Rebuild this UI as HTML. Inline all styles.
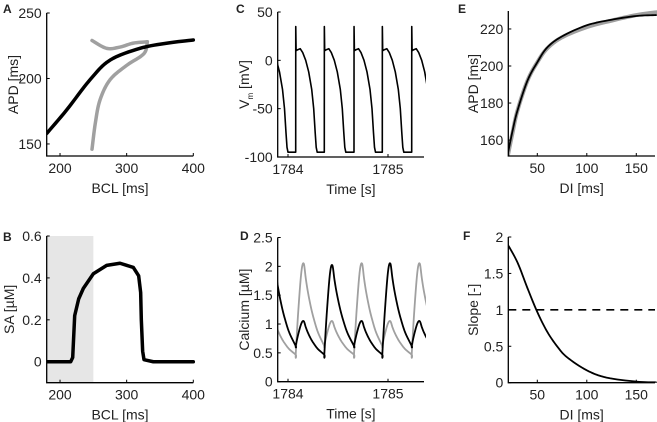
<!DOCTYPE html>
<html><head><meta charset="utf-8"><style>
html,body{margin:0;padding:0;background:#fff;}
svg{display:block;font-family:"Liberation Sans",sans-serif;}
text{fill:#222;}
</style></head><body>
<svg id="fig" width="657" height="422" viewBox="0 0 657 422" xmlns="http://www.w3.org/2000/svg"></svg>
<script>
// Panel A data
const aBcl = [180,210,245,275,320,361,400];
const aApd = [158,176,199,214,223,227,229.4];
const aGrayLowBcl = [248,253,260,275,300,326,331];
const aGrayLowApd = [146,166,183.6,199,210,219,228];
const aGrayUpBcl = [248,270,290,310,331];
const aGrayUpApd = [229,223,224,227,228];
// Panel B data
const bBcl = [180,216,219,222,228,235,250,270,290,310,318,321,322,324,326,340,400];
const bSa = [0,0,0.02,0.22,0.3,0.35,0.42,0.46,0.47,0.45,0.41,0.33,0.2,0.05,0.01,0,0];
// Panel C data
const cOnsets = [1783.785,1784.077,1784.363,1784.66,1784.943,1785.237];
const cShapeT = [0,0.0005,0.004,0.02,0.045,0.07,0.1,0.13,0.16,0.18,0.195,0.205,0.215];
const cShapeV = [-95,35,10,11,12,8,0,-12,-30,-50,-75,-90,-95];
// Panel D data
const dOnsets = [1783.785,1784.077,1784.363,1784.66,1784.943,1785.237,1785.53];
const dBlackPeak = [2.05,1.05,2.02,1.05,2.05,1.05];
const dBlackTrough = [0.47,0.62,0.47,0.62,0.47,0.62,0.47];
const dGrayPeak = [1.05,2.05,1.05,2.05,1.05,2.05];
const dGrayTrough = [0.62,0.47,0.62,0.47,0.62,0.47,0.62];
const dRiseT = [0,0.3,0.7,1];
const dRiseF = [0,0.45,0.9,1];
const dDecayT = [0,0.1,0.2,0.35,0.5,0.7,1];
const dDecayF = [1,0.82,0.66,0.47,0.32,0.16,0];
// Panel E data
const eDi = [20,25,30,40,50,60,75,100,125,150,170];
const eApd = [152,165,176,192,202,210,216,222,225,227,227.5];
const eGrayApd = [151,164,176,192,202,209.5,215.5,221,224.5,227.5,229];
// Panel F data
const fDi = [20,30,40,50,60,70,80,100,120,150,170];
const fSlope = [1.9,1.65,1.3,0.97,0.7,0.5,0.35,0.17,0.07,0.015,0.005];

const NS="http://www.w3.org/2000/svg";
const svg=document.getElementById('fig');
function el(tag,attrs,parent){const e=document.createElementNS(NS,tag);for(const k in attrs)e.setAttribute(k,attrs[k]);(parent||svg).appendChild(e);return e;}

function panel(c){
  const g=el('g',{});
  
  
  const sx=v=>c.l+(v-c.x0)/(c.x1-c.x0)*(c.r-c.l);
  const sy=v=>c.b-(v-c.y0)/(c.y1-c.y0)*(c.b-c.t);
  const cp=el('clipPath',{id:'clip'+c.id},g);
  el('rect',{x:c.l,y:c.t-2,width:c.r-c.l+2,height:c.b-c.t+2},cp);
  const plot=el('g',{'clip-path':'url(#clip'+c.id+')'},g);
  
  
  const ax=el('path',{d:`M${c.l},${c.t}V${c.b}H${c.r}`,stroke:'#000','stroke-width':1.3,fill:'none'},g);
  
  
  c.xt.forEach(v=>{
    const x=sx(v);
    el('line',{x1:x,x2:x,y1:c.b,y2:c.b-3,stroke:'#000','stroke-width':1},g);
    const t=el('text',{x:x,y:c.b+17,'font-size':14,'text-anchor':'middle'},g);
    t.textContent=v;
    
    
  });
  c.yt.forEach(v=>{
    const y=sy(v);
    el('line',{x1:c.l,x2:c.l+3,y1:y,y2:y,stroke:'#000','stroke-width':1},g);
    const t=el('text',{x:c.l-5,y:y+5,'font-size':14,'text-anchor':'end'},g);
    t.textContent=v;
    
    
  });
  const xl=el('text',{x:(c.l+c.r)/2,y:c.b+37,'font-size':14,'text-anchor':'middle'},g);
  xl.textContent=c.xlab;
  
  
  const yl=el('text',{x:0,y:0,'font-size':14,'text-anchor':'middle',transform:`translate(${c.ylx},${(c.t+c.b)/2}) rotate(-90)`},g);
  if(c.ylabHtml){yl.innerHTML=c.ylabHtml;}else yl.textContent=c.ylab;
  
  
  const pl=el('text',{x:c.lx,y:c.ly,'font-size':12,'font-weight':'bold'},g);
  pl.textContent=c.id.toUpperCase();
  
  
  return {sx,sy,plot,g};
}
function line(p,xs,ys,stroke,w,name,extra){
  let d='';xs.forEach((x,i)=>{d+=(i?'L':'M')+p.sx(x).toFixed(2)+','+p.sy(ys[i]).toFixed(2);});
  const e=el('path',Object.assign({d,stroke,'stroke-width':w,fill:'none','stroke-linejoin':'round','stroke-linecap':'round'},extra||{}),p.plot);
  
  
  return e;
}
function smooth(xs,ys,n){
  const ox=[],oy=[];
  for(let i=0;i<xs.length-1;i++){
    const x0=xs[Math.max(i-1,0)],x1=xs[i],x2=xs[i+1],x3=xs[Math.min(i+2,xs.length-1)];
    const y0=ys[Math.max(i-1,0)],y1=ys[i],y2=ys[i+1],y3=ys[Math.min(i+2,ys.length-1)];
    for(let k=0;k<n;k++){const t=k/n,t2=t*t,t3=t2*t;
      const f=(a,b,c,d)=>0.5*((2*b)+(-a+c)*t+(2*a-5*b+4*c-d)*t2+(-a+3*b-3*c+d)*t3);
      ox.push(f(x0,x1,x2,x3));oy.push(f(y0,y1,y2,y3));}
  }
  ox.push(xs[xs.length-1]);oy.push(ys[ys.length-1]);return [ox,oy];
}

// A
const pA=panel({id:'a',l:46.7,r:193.3,t:13,b:156,x0:180,x1:400,y0:140.8,y1:250,xt:[200,300,400],yt:[150,200,250],xlab:'BCL [ms]',ylab:'APD [ms]',ylx:18,lx:3,ly:13});
let s=smooth(aGrayLowBcl,aGrayLowApd,8);line(pA,s[0],s[1],'#a0a0a0',3.5,'series-gray-lower');
s=smooth(aGrayUpBcl,aGrayUpApd,8);line(pA,s[0],s[1],'#a0a0a0',3.5,'series-gray-upper');
s=smooth(aBcl,aApd,8);line(pA,s[0],s[1],'#000',3.5,'series-black');

// B
const pB=panel({id:'b',l:46.7,r:193.3,t:236,b:382.7,x0:180,x1:400,y0:-0.1,y1:0.6,xt:[200,300,400],yt:[0,0.2,0.4,0.6],xlab:'BCL [ms]',ylab:'SA [µM]',ylx:14,lx:3,ly:241});
const shade=el('rect',{x:pB.sx(180),y:pB.sy(0.6),width:pB.sx(250)-pB.sx(180),height:pB.sy(-0.1)-pB.sy(0.6),fill:'#e6e6e6'},pB.plot);


line(pB,bBcl,bSa,'#000',3.5,'series-sa');

// C
const pC=panel({id:'c',l:277.7,r:424,t:12,b:157,x0:1783.897,x1:1785.36,y0:-100,y1:50,xt:[1784,1785],yt:[-100,-50,0,50],xlab:'Time [s]',ylabHtml:'V<tspan font-size="8" dy="4">m</tspan><tspan dy="-4"> [mV]</tspan>',ylx:249,lx:236,ly:13});
{const xs=[],ys=[];cOnsets.forEach((o,i)=>{const nxt=cOnsets[i+1]||1e9;cShapeT.forEach((t,k)=>{if(o+t<nxt){xs.push(o+t);ys.push(cShapeV[k]);}});});
 line(pC,xs,ys,'#000',1.6,'series-vm');}

// D
const pD=panel({id:'d',l:277.7,r:424,t:237.5,b:381.7,x0:1783.897,x1:1785.36,y0:0,y1:2.5,xt:[1784,1785],yt:[0,0.5,1,1.5,2,2.5],xlab:'Time [s]',ylab:'Calcium [µM]',ylx:249,lx:240,ly:240});
function calc(peaks,troughs){const xs=[],ys=[];const rise=0.08;
  for(let i=0;i<peaks.length;i++){const o=dOnsets[i],n=dOnsets[i+1];
    dRiseT.forEach((t,k)=>{xs.push(o+t*rise);ys.push(troughs[i]+(peaks[i]-troughs[i])*dRiseF[k]);});
    dDecayT.forEach((t,k)=>{if(k===0)return;xs.push(o+rise+t*(n-o-rise));ys.push(troughs[i+1]+(peaks[i]-troughs[i+1])*dDecayF[k]);});
  }return smooth(xs,ys,6);}
s=calc(dGrayPeak,dGrayTrough);line(pD,s[0],s[1],'#a0a0a0',1.8,'series-calcium-gray');
s=calc(dBlackPeak,dBlackTrough);line(pD,s[0],s[1],'#000',1.8,'series-calcium-black');

// E
const pE=panel({id:'e',l:508.3,r:655,t:11,b:156,x0:20.7,x1:168.9,y0:151.4,y1:229.7,xt:[50,100,150],yt:[160,180,200,220],xlab:'DI [ms]',ylab:'APD [ms]',ylx:478,lx:458,ly:13});
s=smooth(eDi,eGrayApd,8);line(pE,s[0],s[1],'#a0a0a0',4,'series-apd-gray');
s=smooth(eDi,eApd,8);line(pE,s[0],s[1],'#000',1.8,'series-apd-black');

// F
const pF=panel({id:'f',l:508.3,r:655,t:237,b:382.7,x0:20.7,x1:168.9,y0:0,y1:2,xt:[50,100,150],yt:[0,0.5,1,1.5,2],xlab:'DI [ms]',ylab:'Slope [-]',ylx:478,lx:463,ly:240});
line(pF,[20.7,168.9],[1,1],'#000',1.6,'reference-line-slope-1',{'stroke-dasharray':'8,6','stroke-linecap':'butt'});
s=smooth(fDi,fSlope,8);line(pF,s[0],s[1],'#000',1.8,'series-slope');
</script>
</body></html>
